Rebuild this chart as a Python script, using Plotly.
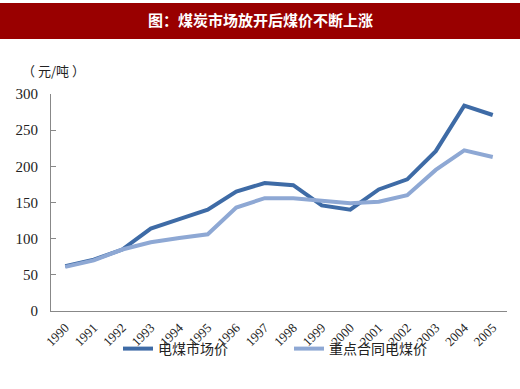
import plotly.graph_objects as go

years = [str(y) for y in range(1990, 2006)]
market_price = [62, 71, 85, 114, 127, 140, 165, 177, 174, 146, 140, 168, 182, 221, 284, 271]
contract_price = [61, 70, 85, 95, 101, 106, 143, 156, 156, 153, 149, 151, 160, 195, 222, 213]
y_ticks = [0, 50, 100, 150, 200, 250, 300]

W, H = 520, 389
ML, MR, MT, MB = 51, 13, 94, 78
PW = W - ML - MR
PH = H - MT - MB

def px(x):
    return (x - ML) / PW

def py(y):
    return (H - MB - y) / PH

fig = go.Figure()
fig.add_trace(go.Scatter(x=years, y=market_price, mode="lines", name="电煤市场价",
                         line=dict(color="#3E6BA6", width=4)))
fig.add_trace(go.Scatter(x=years, y=contract_price, mode="lines", name="重点合同电煤价",
                         line=dict(color="#8EA8D4", width=4)))

fig.add_shape(type="rect", xref="paper", yref="paper",
              x0=px(-2), x1=px(W + 2), y0=py(39), y1=py(3),
              fillcolor="#990000", line=dict(width=0), layer="below")
fig.add_annotation(text="<b>图：煤炭市场放开后煤价不断上涨</b>", xref="paper", yref="paper",
                   x=px(260), y=py(20), xanchor="center", yanchor="middle", showarrow=False,
                   font=dict(family="Noto Sans CJK SC", size=15, color="white"))
fig.add_annotation(text="（ 元/吨 ）", xref="paper", yref="paper",
                   x=px(53), y=py(70), xanchor="center", yanchor="middle", showarrow=False,
                   font=dict(family="Noto Sans CJK SC", size=13, color="#222222"))

fig.update_layout(
    width=W, height=H,
    margin=dict(l=ML, r=MR, t=MT, b=MB, autoexpand=False),
    paper_bgcolor="white", plot_bgcolor="white",
    showlegend=True,
    legend=dict(orientation="h", x=px(118), xanchor="left", y=py(349), yanchor="middle",
                font=dict(family="Noto Sans CJK SC", size=14, color="#222222"),
                itemwidth=30, entrywidth=126, entrywidthmode="pixels",
                bgcolor="rgba(0,0,0,0)"),
    xaxis=dict(type="category", range=[-0.5, 15.5], showgrid=False, showline=True,
               linecolor="#888888", linewidth=1, ticks="", tickangle=-45, automargin=False,
               ticklabelstandoff=3,
               tickfont=dict(family="Liberation Serif", size=13, color="#222222"),
               zeroline=False),
    yaxis=dict(range=[0, 300], tickvals=y_ticks, showgrid=False, showline=True,
               linecolor="#888888", linewidth=1, ticks="inside", ticklen=5,
               tickcolor="#888888", ticklabelstandoff=9, automargin=False,
               tickfont=dict(family="Liberation Serif", size=15, color="#222222"),
               zeroline=False),
)

fig.write_html("out.html", config={"displayModeBar": False},
               post_script="document.body.style.margin='0';document.body.style.overflow='hidden';")
